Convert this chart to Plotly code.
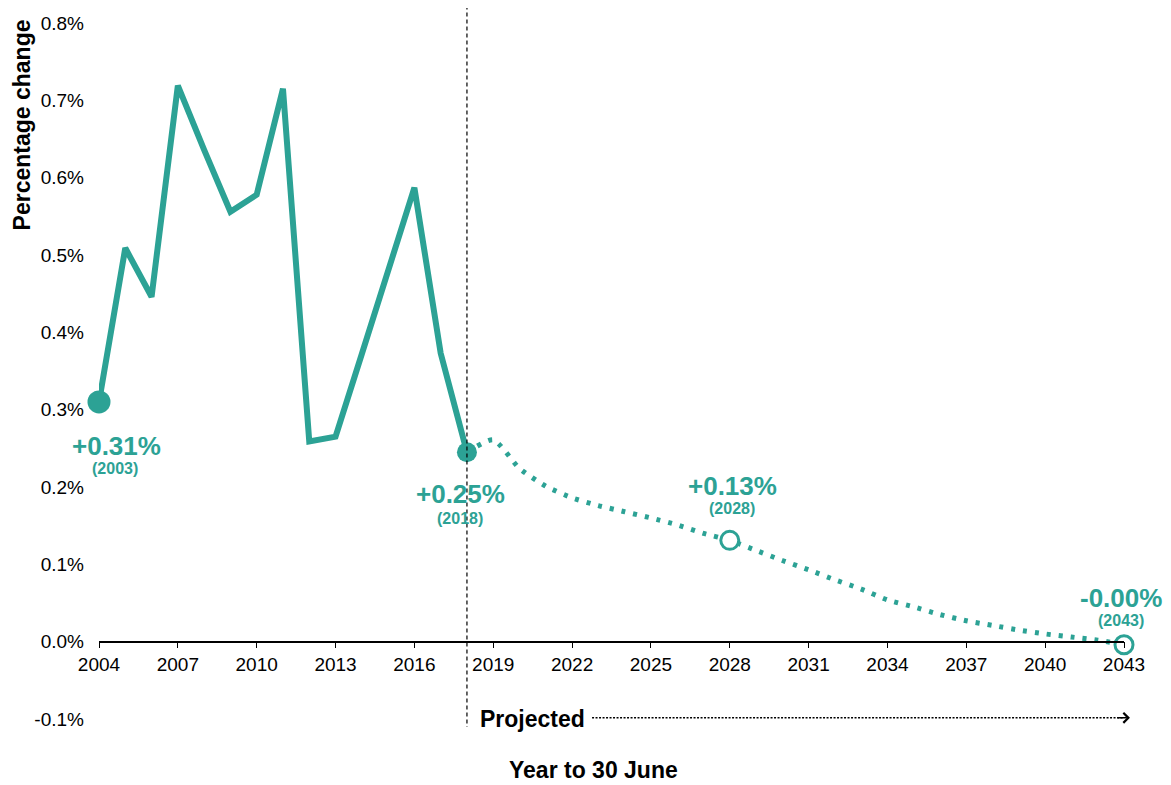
import plotly.graph_objects as go

# ---- data ----
hist_years = list(range(2004, 2019))
hist_values = [0.310, 0.509, 0.446, 0.719, 0.636, 0.556, 0.578, 0.715,
               0.259, 0.265, 0.372, 0.478, 0.587, 0.373, 0.245]

proj_years = list(range(2018, 2044))
proj_values = [0.245, 0.261, 0.224, 0.201, 0.186, 0.176, 0.168, 0.160,
               0.151, 0.140, 0.131, 0.118, 0.105, 0.093, 0.080, 0.068,
               0.054, 0.045, 0.035, 0.027, 0.021, 0.015, 0.010, 0.006,
               0.002, -0.004]

y_tick_vals = [-0.1, 0.0, 0.1, 0.2, 0.3, 0.4, 0.5, 0.6, 0.7, 0.8]
y_tick_text = ["-0.1%", "0.0%", "0.1%", "0.2%", "0.3%", "0.4%", "0.5%", "0.6%", "0.7%", "0.8%"]
x_tick_vals = list(range(2004, 2044, 3))

callout_years = [2004, 2018, 2028, 2043]
callout_values = [0.310, 0.245, 0.131, -0.004]
callout_text = ["+0.31%", "+0.25%", "+0.13%", "-0.00%"]
callout_sub = ["(2003)", "(2018)", "(2028)", "(2043)"]

TEAL = "#2CA295"
FONT = "Liberation Sans, Arial, sans-serif"

fig = go.Figure()

fig.add_trace(go.Scatter(
    x=hist_years, y=hist_values, mode="lines",
    line=dict(color=TEAL, width=6), hoverinfo="skip", showlegend=False))

fig.add_trace(go.Scatter(
    x=proj_years, y=proj_values, mode="lines",
    line=dict(color=TEAL, width=5, dash="4px,8px", shape="spline", smoothing=0.6),
    hoverinfo="skip", showlegend=False))

# filled markers (historical)
fig.add_trace(go.Scatter(
    x=callout_years[:2], y=callout_values[:2], mode="markers",
    marker=dict(color=TEAL, size=[23, 20], opacity=1, line=dict(width=0)),
    cliponaxis=False, hoverinfo="skip", showlegend=False))

# open markers (projected)
fig.add_trace(go.Scatter(
    x=callout_years[2:], y=callout_values[2:], mode="markers",
    marker=dict(color="white", size=18, opacity=1, line=dict(color=TEAL, width=3)),
    cliponaxis=False, hoverinfo="skip", showlegend=False))

# callout label positions (data units)
label_pos = [(2004.68, 0.253), (2017.74, 0.191), (2028.09, 0.2016), (2042.89, 0.0569)]
sub_pos = [(2004.62, 0.224), (2017.74, 0.159), (2028.09, 0.172), (2042.87, 0.027)]

annotations = []
for (lx, ly), (sx, sy), t, s in zip(label_pos, sub_pos, callout_text, callout_sub):
    annotations.append(dict(x=lx, y=ly, xref="x", yref="y", text="<b>%s</b>" % t,
                            xanchor="center", yanchor="middle",
                            showarrow=False, font=dict(family=FONT, size=26, color=TEAL)))
    annotations.append(dict(x=sx, y=sy, xref="x", yref="y", text="<b>%s</b>" % s,
                            xanchor="center", yanchor="middle",
                            showarrow=False, font=dict(family=FONT, size=16, color=TEAL)))

# Projected label + arrowhead
annotations.append(dict(x=2018.42, y=-0.0995, xref="x", yref="y", xanchor="left",
                        yanchor="middle", text="<b>Projected</b>", showarrow=False,
                        font=dict(family=FONT, size=23, color="black")))
annotations.append(dict(x=1.0058, y=0.0017, xref="paper", yref="paper", text="",
                        showarrow=True, ax=-14, ay=0, arrowhead=4, arrowsize=1.3,
                        arrowwidth=1.5, arrowcolor="black"))

# axis titles
annotations.append(dict(x=0.482, y=-0.0735, xref="paper", yref="paper",
                        xanchor="center", yanchor="middle",
                        text="<b>Year to 30 June</b>", showarrow=False,
                        font=dict(family=FONT, size=23, color="black")))
annotations.append(dict(x=-0.075, y=0.853, xref="paper", yref="paper",
                        xanchor="center", yanchor="middle",
                        text="<b>Percentage change</b>", textangle=-90, showarrow=False,
                        font=dict(family=FONT, size=23, color="black")))

shapes = [
    dict(type="line", xref="x", yref="paper", x0=2018, x1=2018, y0=1.025, y1=-0.0115,
         line=dict(color="black", width=1.2, dash="4px,3px")),
    dict(type="line", xref="x", yref="y", x0=2022.76, x1=2043.0, y0=-0.0985, y1=-0.0985,
         line=dict(color="black", width=1.5, dash="2px,1.5px")),
]

# the page body has an 8px margin: shrink the figure and top/left margins to compensate
fig.update_layout(
    width=1163, height=777,
    margin=dict(l=91, r=47, t=15, b=66),
    paper_bgcolor="white", plot_bgcolor="white",
    font=dict(family=FONT, size=19, color="black"),
    annotations=annotations, shapes=shapes,
    xaxis=dict(range=[2004, 2043], tickvals=x_tick_vals, showgrid=False, zeroline=False,
               showline=True, linecolor="black", linewidth=1.5,
               ticks="outside", ticklen=6, tickwidth=1, tickcolor="black",
               anchor="free", position=0.1 / 0.9, automargin=False,
               tickfont=dict(family=FONT, size=19, color="black")),
    yaxis=dict(range=[-0.1, 0.8], tickvals=y_tick_vals, ticktext=y_tick_text,
               showgrid=False, zeroline=False, showline=False, ticks="",
               ticklabelstandoff=14, automargin=False,
               tickfont=dict(family=FONT, size=19, color="black")),
)

fig.write_html("out.html")
